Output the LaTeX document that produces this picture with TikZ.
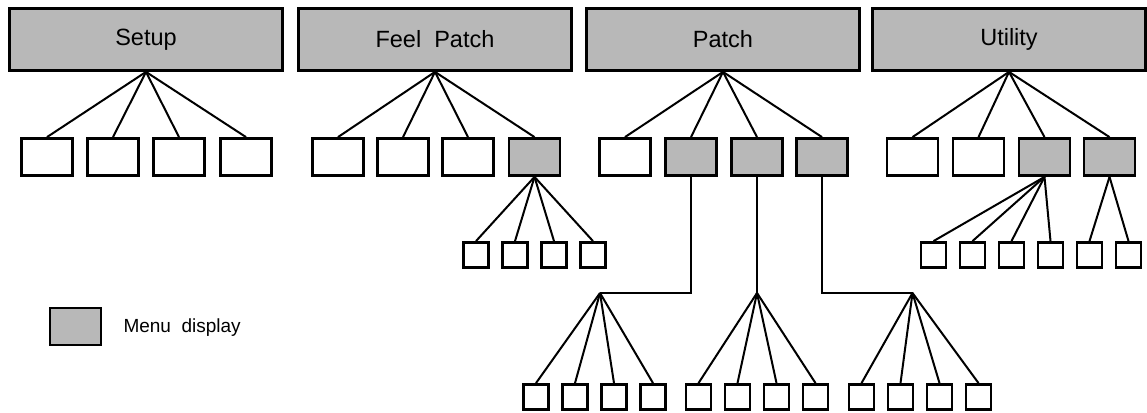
\documentclass[tikz,border=0pt]{standalone}
\usepackage{fontspec}
\setmainfont{Liberation Sans}
\definecolor{menugray}{gray}{0.72}
\begin{document}
\begin{tikzpicture}[x=1pt,y=1pt,
  headbox/.style={draw,line width=2.8pt,fill=menugray,minimum width=272.5pt,minimum height=62pt,inner sep=0pt,font=\fontsize{23.5}{28}\selectfont},
  itembox/.style={draw,line width=2.8pt,fill=white,minimum width=51pt,minimum height=37pt,inner sep=0pt},
  menubox/.style={itembox,fill=menugray},
  leafbox/.style={draw,line width=2.8pt,fill=white,minimum size=25pt,inner sep=0pt},
  link/.style={line width=2pt}]
\useasboundingbox (0,0) rectangle (1147,412);
\node[headbox] (setup) at (146,372.5) {Setup};
\node[headbox] (feel) at (435,372.5) {Feel\ \ Patch};
\node[headbox] (patch) at (723,372.5) {Patch};
\node[headbox] (util) at (1009,372.5) {Utility};
\node[itembox] (s1) at (47,255) {};
\node[itembox] (s2) at (113,255) {};
\node[itembox] (s3) at (179,255) {};
\node[itembox] (s4) at (246,255) {};
\node[itembox] (f1) at (338,255) {};
\node[itembox] (f2) at (403,255) {};
\node[itembox] (f3) at (468,255) {};
\node[menubox] (f4) at (534.5,255) {};
\node[itembox] (p1) at (625,255) {};
\node[menubox] (p2) at (691,255) {};
\node[menubox] (p3) at (757,255) {};
\node[menubox] (p4) at (822,255) {};
\node[itembox] (u1) at (912.5,255) {};
\node[itembox] (u2) at (978.5,255) {};
\node[menubox] (u3) at (1044.5,255) {};
\node[menubox] (u4) at (1109.5,255) {};
\node[leafbox] (fa1) at (476,157) {};
\node[leafbox] (fa2) at (515,157) {};
\node[leafbox] (fa3) at (554,157) {};
\node[leafbox] (fa4) at (593,157) {};
\node[leafbox] (ua1) at (933.5,157) {};
\node[leafbox] (ua2) at (972.5,157) {};
\node[leafbox] (ua3) at (1011.5,157) {};
\node[leafbox] (ua4) at (1050.5,157) {};
\node[leafbox] (ua5) at (1089.5,157) {};
\node[leafbox] (ua6) at (1128.5,157) {};
\node[leafbox] (pa1) at (536,15) {};
\node[leafbox] (pa2) at (575,15) {};
\node[leafbox] (pa3) at (614,15) {};
\node[leafbox] (pa4) at (653,15) {};
\node[leafbox] (pb1) at (698.5,15) {};
\node[leafbox] (pb2) at (737.5,15) {};
\node[leafbox] (pb3) at (776.5,15) {};
\node[leafbox] (pb4) at (815.5,15) {};
\node[leafbox] (pc1) at (861.5,15) {};
\node[leafbox] (pc2) at (900.5,15) {};
\node[leafbox] (pc3) at (939.5,15) {};
\node[leafbox] (pc4) at (978.5,15) {};
\coordinate (pj1) at (600,119);
\coordinate (pj2) at (757,119);
\coordinate (pj3) at (912.5,119);
\node[menubox] (key) at (75.5,85.5) {};
\node[anchor=west,font=\fontsize{19}{22}\selectfont] (keytext) at (120,84) {Menu\ \ display};
\draw[link] (setup.south) -- (s1.north);
\draw[link] (setup.south) -- (s2.north);
\draw[link] (setup.south) -- (s3.north);
\draw[link] (setup.south) -- (s4.north);
\draw[link] (feel.south) -- (f1.north);
\draw[link] (feel.south) -- (f2.north);
\draw[link] (feel.south) -- (f3.north);
\draw[link] (feel.south) -- (f4.north);
\draw[link] (patch.south) -- (p1.north);
\draw[link] (patch.south) -- (p2.north);
\draw[link] (patch.south) -- (p3.north);
\draw[link] (patch.south) -- (p4.north);
\draw[link] (util.south) -- (u1.north);
\draw[link] (util.south) -- (u2.north);
\draw[link] (util.south) -- (u3.north);
\draw[link] (util.south) -- (u4.north);
\draw[link] (f4.south) -- (fa1.north);
\draw[link] (f4.south) -- (fa2.north);
\draw[link] (f4.south) -- (fa3.north);
\draw[link] (f4.south) -- (fa4.north);
\draw[link] (u3.south) -- (ua1.north);
\draw[link] (u3.south) -- (ua2.north);
\draw[link] (u3.south) -- (ua3.north);
\draw[link] (u3.south) -- (ua4.north);
\draw[link] (u4.south) -- (ua5.north);
\draw[link] (u4.south) -- (ua6.north);
\draw[link] (p2.south) |- (pj1);
\draw[link] (p3.south) -- (pj2);
\draw[link] (p4.south) |- (pj3);
\draw[link] (pj1) -- (pa1.north);
\draw[link] (pj1) -- (pa2.north);
\draw[link] (pj1) -- (pa3.north);
\draw[link] (pj1) -- (pa4.north);
\draw[link] (pj2) -- (pb1.north);
\draw[link] (pj2) -- (pb2.north);
\draw[link] (pj2) -- (pb3.north);
\draw[link] (pj2) -- (pb4.north);
\draw[link] (pj3) -- (pc1.north);
\draw[link] (pj3) -- (pc2.north);
\draw[link] (pj3) -- (pc3.north);
\draw[link] (pj3) -- (pc4.north);
\end{tikzpicture}
\end{document}
